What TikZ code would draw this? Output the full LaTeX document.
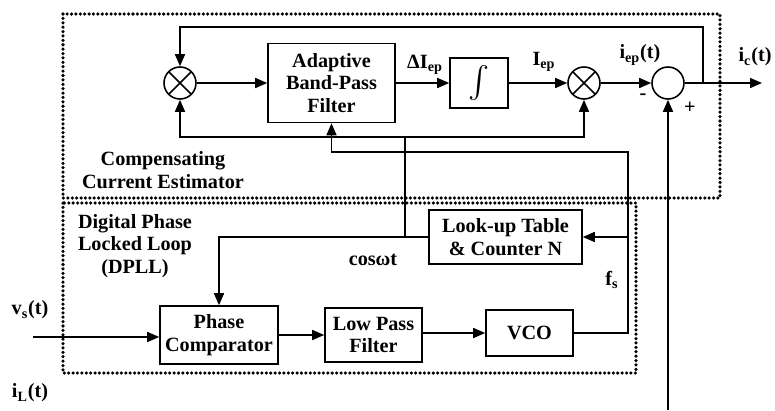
\documentclass[tikz,border=0pt]{standalone}
\usepackage{fontspec}
\setmainfont{Liberation Serif}
\usetikzlibrary{positioning, arrows.meta, calc}
\tikzset{
  bx/.style={draw, line width=0.9pt, align=center, inner sep=0pt,
             font=\fontsize{11.5}{13}\selectfont\bfseries},
  mul/.style={draw, circle, line width=0.9pt, minimum size=0.64cm, inner sep=0pt,
              path picture={\draw[line width=0.9pt]
                (path picture bounding box.north west) -- (path picture bounding box.south east)
                (path picture bounding box.north east) -- (path picture bounding box.south west);}},
  sm/.style={draw, circle, line width=0.9pt, minimum size=0.64cm, inner sep=0pt},
  ar/.style={-{Triangle[length=2.4mm,width=2mm]}, line width=0.9pt},
  ln/.style={line width=0.9pt},
  grp/.style={line width=2pt, dash pattern=on 0pt off 2.5pt, line cap=round},
  lb/.style={font=\fontsize{11.5}{13}\selectfont\bfseries, align=center, inner sep=1pt},
}

\begin{document}
\begin{tikzpicture}[x=0.02cm, y=-0.02cm]
  \useasboundingbox (0,0) rectangle (775,410);

  % group frames
  \draw[grp] (63,14) rectangle (720,198);
  \draw[grp] (63,203) rectangle (636,373);
  \node[lb] (cce) at (163,170) {Compensating\\Current Estimator};
  \node[lb] (dpll) at (135,246) {Digital Phase\\Locked Loop\\(DPLL)};

  % estimator path
  \node[mul] (mulA) at (180,83) {};
  \node[bx, minimum width=2.54cm, minimum height=1.58cm] (bpf) at (331.5,83)
       {Adaptive\\Band-Pass\\Filter};
  \node[bx, minimum width=1.16cm, minimum height=1.0cm] (intg) at (479,83)
       {\scalebox{1.8}{$\int$}};
  \node[mul] (mulB) at (584,83) {};
  \node[sm] (sum) at (668,83) {};
  \coordinate (out) at (762,83);
  \coordinate (tj) at (703,83);

  % DPLL
  \node[bx, minimum width=3.06cm, minimum height=1.08cm] (lut) at (505.5,237)
       {Look-up Table\\\& Counter N};
  \node[bx, minimum width=2.36cm, minimum height=1.16cm] (pc) at (219,335)
       {Phase\\Comparator};
  \node[bx, minimum width=1.94cm, minimum height=1.08cm] (lpf) at (373.5,335)
       {Low Pass\\Filter};
  \node[bx, minimum width=1.74cm, minimum height=0.92cm] (vco) at (529.5,333) {VCO};

  \coordinate (vsin) at (33,337);
  \coordinate (ilin) at (668,410);
  \coordinate (fsj) at (628,237);
  \coordinate (cj) at (405,237);
  \coordinate (bj) at (405,137);

  % labels
  \node[lb] (vsl) at (30,310) {v\textsubscript{s}(t)};
  \node[lb] (ill) at (30,393) {i\textsubscript{L}(t)};
  \node[lb] (cosl) at (373,260) {cosωt};
  \node[lb] (fsl) at (612,280) {f\textsubscript{s}};
  \node[lb] (dil) at (425,65) {ΔI\textsubscript{ep}};
  \node[lb] (iepl) at (544,62) {I\textsubscript{ep}};
  \node[lb] (ieptl) at (640,55) {i\textsubscript{ep}(t)};
  \node[lb] (icl) at (755,57) {i\textsubscript{c}(t)};
  \node[lb] (minus) at (643,97) {-};
  \node[lb] (plus) at (690,108) {+};

  % connectors
  \draw[ar] (mulA) -- (bpf);
  \draw[ar] (bpf) -- (intg);
  \draw[ar] (intg) -- (mulB);
  \draw[ar] (mulB) -- (sum);
  \draw[ar] (sum) -- (out);
  \draw[ar] (tj) -- ++(0,-56) -| (mulA.north);
  \draw[ar] (bj) -| (mulA.south);
  \draw[ar] (bj) -| (mulB.south);
  \draw[ln] (cj) -- (bj);
  \draw[ar] (vco.east) -| (628,152) -| (bpf.south);
  \draw[ar] (fsj) -- (lut.east);
  \draw[ar] (lut.west) -| (pc.north);
  \draw[ar] (vsin) -- (vsin -| pc.west);
  \draw[ar] (pc.east |- lpf.east) -- (lpf.west);
  \draw[ar] (lpf.east |- vco.east) -- (vco.west);
  \draw[ar] (ilin) -- (sum.south);
\end{tikzpicture}
\end{document}
